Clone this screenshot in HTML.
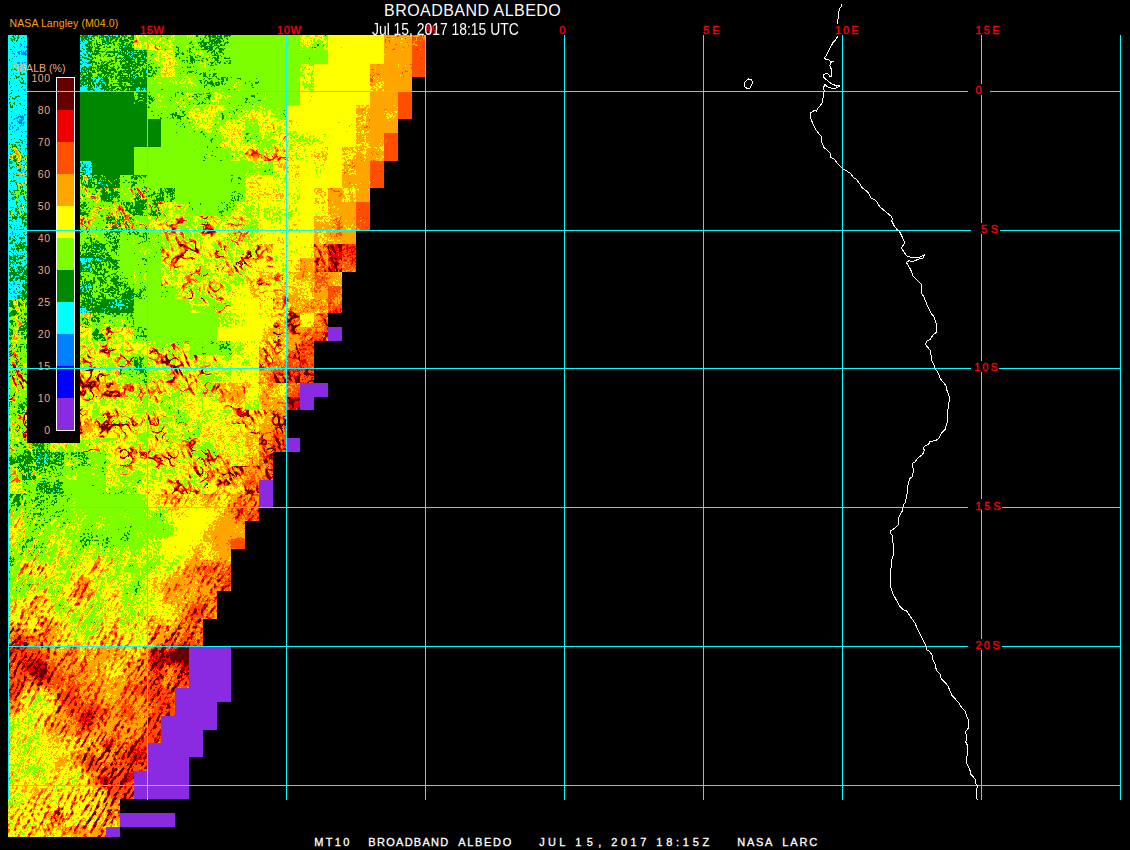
<!DOCTYPE html>
<html><head><meta charset="utf-8"><title>BROADBAND ALBEDO</title>
<style>
html,body{margin:0;padding:0;background:#000;}
body{width:1130px;height:850px;overflow:hidden;position:relative;font-family:"Liberation Sans",sans-serif;}
svg{position:absolute;left:0;top:0;}
.t{position:absolute;white-space:pre;line-height:1;}
.leg{color:#f4a57c;font-size:10.5px;letter-spacing:0.5px;}
</style></head><body>
<svg width="1130" height="850" viewBox="0 0 1130 850">
<defs>
<filter id="albA" x="0" y="0" width="440" height="850" filterUnits="userSpaceOnUse" primitiveUnits="userSpaceOnUse" color-interpolation-filters="sRGB">
  <feColorMatrix in="SourceGraphic" type="matrix" values="1 0 0 0 0  1 0 0 0 0  1 0 0 0 0  0 0 0 0 1" result="base"/>
  <feColorMatrix in="SourceGraphic" type="matrix" values="0 1 0 0 0  0 1 0 0 0  0 1 0 0 0  0 0 0 0 1" result="ampS"/>
  <feColorMatrix in="SourceGraphic" type="matrix" values="0 0 1 0 0  0 0 1 0 0  0 0 1 0 0  0 0 0 0 1" result="ampV"/>
  <feTurbulence type="fractalNoise" baseFrequency="0.045" numOctaves="2" seed="7" result="tL"/>
  <feColorMatrix in="tL" type="matrix" values="1 0 0 0 0  1 0 0 0 0  1 0 0 0 0  0 0 0 0 1" result="nL"/>
  <feTurbulence type="fractalNoise" baseFrequency="0.16" numOctaves="1" seed="3" result="tM"/>
  <feColorMatrix in="tM" type="matrix" values="1 0 0 0 0  1 0 0 0 0  1 0 0 0 0  0 0 0 0 1" result="nM"/>
  <feTurbulence type="fractalNoise" baseFrequency="0.45" numOctaves="2" seed="5" result="tH"/>
  <feColorMatrix in="tH" type="matrix" values="1 0 0 0 0  1 0 0 0 0  1 0 0 0 0  0 0 0 0 1" result="nH"/>
  <feComposite in="nL" in2="nM" operator="arithmetic" k1="0.0000" k2="0.8500" k3="0.5500" k4="0.0000" result="nLM"/>
  <feComposite in="nLM" in2="nH" operator="arithmetic" k1="0.0000" k2="1.0000" k3="0.8500" k4="-0.6250" result="nS"/>
  <feTurbulence type="turbulence" baseFrequency="0.12 0.12" numOctaves="1" seed="11" result="tV"/>
  <feColorMatrix in="tV" type="matrix" values="-8.000 0 0 0 1.200  -8.000 0 0 0 1.200  -8.000 0 0 0 1.200  0 0 0 0 1" result="VE0"/>
  <feTurbulence type="fractalNoise" baseFrequency="0.06" numOctaves="2" seed="31" result="tMk"/>
  <feColorMatrix in="tMk" type="matrix" values="6.000 0 0 0 -2.700  6.000 0 0 0 -2.700  6.000 0 0 0 -2.700  0 0 0 0 1" result="Mk"/>
  <feComposite in="VE0" in2="Mk" operator="arithmetic" k1="1.0000" k2="0.0000" k3="0.0000" k4="0.0000" result="PVr"/>
  <feTurbulence type="fractalNoise" baseFrequency="0.30" numOctaves="2" seed="41" result="tS"/>
  <feColorMatrix in="tS" type="matrix" values="1 0 0 0 0  1 0 0 0 0  1 0 0 0 0  0 0 0 0 1" result="nSt"/>
  <feOffset in="nSt" dx="0.6" dy="1.1" result="bo0"/>
  <feComposite in="nSt" in2="bo0" operator="arithmetic" k1="0.0000" k2="0.5000" k3="0.5000" k4="0.0000" result="bs0"/>
  <feOffset in="bs0" dx="1.1" dy="2.2" result="bo1"/>
  <feComposite in="bs0" in2="bo1" operator="arithmetic" k1="0.0000" k2="0.5000" k3="0.5000" k4="0.0000" result="bs1"/>
  <feOffset in="bs1" dx="2.2" dy="4.4" result="bo2"/>
  <feComposite in="bs1" in2="bo2" operator="arithmetic" k1="0.0000" k2="0.5000" k3="0.5000" k4="0.0000" result="nSts"/>
  <feColorMatrix in="nSts" type="matrix" values="10.000 0 0 0 -5.050  10.000 0 0 0 -5.050  10.000 0 0 0 -5.050  0 0 0 0 1" result="STK"/>
  <feTurbulence type="fractalNoise" baseFrequency="0.035" numOctaves="2" seed="51" result="tM2"/>
  <feColorMatrix in="tM2" type="matrix" values="6.000 0 0 0 -3.000  6.000 0 0 0 -3.000  6.000 0 0 0 -3.000  0 0 0 0 1" result="Mk2"/>
  <feComposite in="STK" in2="Mk2" operator="arithmetic" k1="1.0000" k2="0.0000" k3="0.0000" k4="0.0000" result="STKm"/>
  <feComposite in="PVr" in2="STKm" operator="arithmetic" k1="0.0000" k2="1.0000" k3="1.0000" k4="0.0000" result="PV"/>
  <feComposite in="ampS" in2="nS" operator="arithmetic" k1="1.0000" k2="0.0000" k3="0.0000" k4="0.0000" result="T1"/>
  <feComposite in="base" in2="ampS" operator="arithmetic" k1="0.0000" k2="1.0000" k3="-0.2727" k4="0.0000" result="B2"/>
  <feComposite in="B2" in2="T1" operator="arithmetic" k1="0.0000" k2="1.0000" k3="0.5455" k4="0.0000" result="B3"/>
  <feComposite in="ampV" in2="PV" operator="arithmetic" k1="1.0000" k2="0.0000" k3="0.0000" k4="0.0000" result="T2"/>
  <feComposite in="B3" in2="T2" operator="arithmetic" k1="0.0000" k2="1.0000" k3="0.6364" k4="0.0000" result="V"/>
  <feComponentTransfer in="V" result="COL"><feFuncR type="discrete" tableValues="0.5412 0.0000 0.0000 0.0000 0.0000 0.4980 1.0000 1.0000 1.0000 0.9333 0.3922"/><feFuncG type="discrete" tableValues="0.1686 0.0000 0.5020 1.0000 0.5333 1.0000 1.0000 0.6471 0.3098 0.0000 0.0000"/><feFuncB type="discrete" tableValues="0.8863 1.0000 1.0000 1.0000 0.0000 0.0000 0.0000 0.0000 0.0000 0.0000 0.0000"/></feComponentTransfer>
  <feComposite in="COL" in2="SourceGraphic" operator="in"/>
  </filter>
<filter id="albB" x="0" y="0" width="440" height="850" filterUnits="userSpaceOnUse" primitiveUnits="userSpaceOnUse" color-interpolation-filters="sRGB">
  <feGaussianBlur in="SourceGraphic" stdDeviation="4" result="blur"/>
  <feColorMatrix in="blur" type="matrix" values="1 0 0 0 0  1 0 0 0 0  1 0 0 0 0  0 0 0 0 1" result="base"/>
  <feColorMatrix in="blur" type="matrix" values="0 1 0 0 0  0 1 0 0 0  0 1 0 0 0  0 0 0 0 1" result="ampS"/>
  <feColorMatrix in="blur" type="matrix" values="0 0 1 0 0  0 0 1 0 0  0 0 1 0 0  0 0 0 0 1" result="ampV"/>
  <feTurbulence type="fractalNoise" baseFrequency="0.045" numOctaves="2" seed="7" result="tL"/>
  <feColorMatrix in="tL" type="matrix" values="1 0 0 0 0  1 0 0 0 0  1 0 0 0 0  0 0 0 0 1" result="nL"/>
  <feTurbulence type="fractalNoise" baseFrequency="0.16" numOctaves="1" seed="3" result="tM"/>
  <feColorMatrix in="tM" type="matrix" values="1 0 0 0 0  1 0 0 0 0  1 0 0 0 0  0 0 0 0 1" result="nM"/>
  <feTurbulence type="fractalNoise" baseFrequency="0.45" numOctaves="2" seed="5" result="tH"/>
  <feColorMatrix in="tH" type="matrix" values="1 0 0 0 0  1 0 0 0 0  1 0 0 0 0  0 0 0 0 1" result="nH"/>
  <feComposite in="nL" in2="nM" operator="arithmetic" k1="0.0000" k2="0.5000" k3="0.5000" k4="0.0000" result="nLM0"/>
  <feOffset in="nLM0" dx="0.7" dy="-1.2" result="ao0"/>
  <feComposite in="nLM0" in2="ao0" operator="arithmetic" k1="0.0000" k2="0.5000" k3="0.5000" k4="0.0000" result="as0"/>
  <feOffset in="as0" dx="1.4" dy="-2.4" result="ao1"/>
  <feComposite in="as0" in2="ao1" operator="arithmetic" k1="0.0000" k2="0.5000" k3="0.5000" k4="0.0000" result="as1"/>
  <feOffset in="as1" dx="2.8" dy="-4.8" result="ao2"/>
  <feComposite in="as1" in2="ao2" operator="arithmetic" k1="0.0000" k2="0.5000" k3="0.5000" k4="0.0000" result="nLMs"/>
  <feComposite in="nLMs" in2="nH" operator="arithmetic" k1="0.0000" k2="1.5400" k3="0.8500" k4="-0.6950" result="nS"/>
  <feTurbulence type="fractalNoise" baseFrequency="0.3" numOctaves="2" seed="41" result="tS"/>
  <feColorMatrix in="tS" type="matrix" values="1 0 0 0 0  1 0 0 0 0  1 0 0 0 0  0 0 0 0 1" result="nSt"/>
  <feOffset in="nSt" dx="0.7" dy="-1.2" result="bo0"/>
  <feComposite in="nSt" in2="bo0" operator="arithmetic" k1="0.0000" k2="0.5000" k3="0.5000" k4="0.0000" result="bs0"/>
  <feOffset in="bs0" dx="1.4" dy="-2.4" result="bo1"/>
  <feComposite in="bs0" in2="bo1" operator="arithmetic" k1="0.0000" k2="0.5000" k3="0.5000" k4="0.0000" result="bs1"/>
  <feOffset in="bs1" dx="2.8" dy="-4.8" result="bo2"/>
  <feComposite in="bs1" in2="bo2" operator="arithmetic" k1="0.0000" k2="0.5000" k3="0.5000" k4="0.0000" result="nSts"/>
  <feColorMatrix in="nSts" type="matrix" values="10.000 0 0 0 -5.050  10.000 0 0 0 -5.050  10.000 0 0 0 -5.050  0 0 0 0 1" result="STK"/>
  <feTurbulence type="fractalNoise" baseFrequency="0.04" numOctaves="3" seed="21" result="tP"/>
  <feColorMatrix in="tP" type="matrix" values="1 0 0 0 0  1 0 0 0 0  1 0 0 0 0  0 0 0 0 1" result="nP0"/>
  <feOffset in="nP0" dx="0.4" dy="-0.7" result="co0"/>
  <feComposite in="nP0" in2="co0" operator="arithmetic" k1="0.0000" k2="0.5000" k3="0.5000" k4="0.0000" result="cs0"/>
  <feOffset in="cs0" dx="0.8" dy="-1.4" result="co1"/>
  <feComposite in="cs0" in2="co1" operator="arithmetic" k1="0.0000" k2="0.5000" k3="0.5000" k4="0.0000" result="cs1"/>
  <feOffset in="cs1" dx="1.7" dy="-2.9" result="co2"/>
  <feComposite in="cs1" in2="co2" operator="arithmetic" k1="0.0000" k2="0.5000" k3="0.5000" k4="0.0000" result="nPs"/>
  <feColorMatrix in="nPs" type="matrix" values="4.000 0 0 0 -2.080  4.000 0 0 0 -2.080  4.000 0 0 0 -2.080  0 0 0 0 1" result="Pb"/>
  <feComposite in="ampV" in2="Pb" operator="arithmetic" k1="1.0000" k2="0.0000" k3="0.0000" k4="0.0000" result="Q"/>
  <feComposite in="STK" in2="Q" operator="arithmetic" k1="0.0000" k2="1.0000" k3="0.9000" k4="0.0000" result="PV"/>
  <feComposite in="ampS" in2="nS" operator="arithmetic" k1="1.0000" k2="0.0000" k3="0.0000" k4="0.0000" result="T1"/>
  <feComposite in="base" in2="ampS" operator="arithmetic" k1="0.0000" k2="1.0000" k3="-0.2727" k4="0.0000" result="B2"/>
  <feComposite in="B2" in2="T1" operator="arithmetic" k1="0.0000" k2="1.0000" k3="0.5455" k4="0.0000" result="B3"/>
  <feComposite in="ampV" in2="PV" operator="arithmetic" k1="1.0000" k2="0.0000" k3="0.0000" k4="0.0000" result="T2"/>
  <feComposite in="B3" in2="T2" operator="arithmetic" k1="0.0000" k2="1.0000" k3="0.6364" k4="0.0000" result="V"/>
  <feComponentTransfer in="V" result="COL"><feFuncR type="discrete" tableValues="0.5412 0.0000 0.0000 0.0000 0.0000 0.4980 1.0000 1.0000 1.0000 0.9333 0.3922"/><feFuncG type="discrete" tableValues="0.1686 0.0000 0.5020 1.0000 0.5333 1.0000 1.0000 0.6471 0.3098 0.0000 0.0000"/><feFuncB type="discrete" tableValues="0.8863 1.0000 1.0000 1.0000 0.0000 0.0000 0.0000 0.0000 0.0000 0.0000 0.0000"/></feComponentTransfer>
  <feComposite in="COL" in2="SourceGraphic" operator="in"/>
  </filter>
</defs>
<rect width="1130" height="850" fill="#000"/>
<g filter="url(#albA)" shape-rendering="crispEdges">
<rect x="8" y="35" width="28" height="15" fill="#515e00"/>
<rect x="78" y="35" width="14" height="15" fill="#5d9000"/>
<rect x="92" y="35" width="42" height="15" fill="#6e9000"/>
<rect x="134" y="35" width="27" height="15" fill="#8b5e6d"/>
<rect x="161" y="35" width="14" height="15" fill="#809000"/>
<rect x="175" y="35" width="14" height="15" fill="#805e00"/>
<rect x="189" y="35" width="28" height="15" fill="#7a9000"/>
<rect x="217" y="35" width="14" height="15" fill="#749000"/>
<rect x="231" y="35" width="69" height="15" fill="#800000"/>
<rect x="300" y="35" width="28" height="15" fill="#8b9000"/>
<rect x="328" y="35" width="28" height="15" fill="#972f00"/>
<rect x="356" y="35" width="28" height="15" fill="#970000"/>
<rect x="384" y="35" width="28" height="15" fill="#ae5e00"/>
<rect x="412" y="35" width="13" height="15" fill="#c55e00"/>
<rect x="8" y="50" width="28" height="14" fill="#515e00"/>
<rect x="78" y="50" width="14" height="14" fill="#5d9000"/>
<rect x="92" y="50" width="55" height="14" fill="#6e9000"/>
<rect x="147" y="50" width="14" height="14" fill="#809000"/>
<rect x="161" y="50" width="14" height="14" fill="#8b9000"/>
<rect x="175" y="50" width="14" height="14" fill="#805e00"/>
<rect x="189" y="50" width="28" height="14" fill="#7a9000"/>
<rect x="217" y="50" width="14" height="14" fill="#745e00"/>
<rect x="231" y="50" width="69" height="14" fill="#800000"/>
<rect x="300" y="50" width="28" height="14" fill="#802f00"/>
<rect x="328" y="50" width="56" height="14" fill="#970000"/>
<rect x="384" y="50" width="28" height="14" fill="#ae2f00"/>
<rect x="412" y="50" width="13" height="14" fill="#c52f00"/>
<rect x="8" y="64" width="28" height="13" fill="#515e00"/>
<rect x="78" y="64" width="14" height="13" fill="#5d9000"/>
<rect x="92" y="64" width="55" height="13" fill="#6e9000"/>
<rect x="147" y="64" width="14" height="13" fill="#7a9000"/>
<rect x="161" y="64" width="14" height="13" fill="#8b9000"/>
<rect x="175" y="64" width="28" height="13" fill="#805e00"/>
<rect x="203" y="64" width="14" height="13" fill="#7a9000"/>
<rect x="217" y="64" width="14" height="13" fill="#802f00"/>
<rect x="231" y="64" width="69" height="13" fill="#800000"/>
<rect x="300" y="64" width="14" height="13" fill="#8b9000"/>
<rect x="314" y="64" width="14" height="13" fill="#972f00"/>
<rect x="328" y="64" width="42" height="13" fill="#970000"/>
<rect x="370" y="64" width="14" height="13" fill="#ae5e00"/>
<rect x="384" y="64" width="14" height="13" fill="#ae2f00"/>
<rect x="398" y="64" width="14" height="13" fill="#ae5e00"/>
<rect x="412" y="64" width="13" height="13" fill="#c52f00"/>
<rect x="8" y="77" width="28" height="14" fill="#515e00"/>
<rect x="78" y="77" width="28" height="14" fill="#5d9000"/>
<rect x="106" y="77" width="14" height="14" fill="#6e9000"/>
<rect x="120" y="77" width="27" height="14" fill="#685e00"/>
<rect x="147" y="77" width="112" height="14" fill="#805e00"/>
<rect x="259" y="77" width="41" height="14" fill="#800000"/>
<rect x="300" y="77" width="14" height="14" fill="#8b9000"/>
<rect x="314" y="77" width="56" height="14" fill="#970000"/>
<rect x="370" y="77" width="14" height="14" fill="#a29000"/>
<rect x="384" y="77" width="28" height="14" fill="#ae2f00"/>
<rect x="8" y="91" width="28" height="14" fill="#515e00"/>
<rect x="78" y="91" width="42" height="14" fill="#680000"/>
<rect x="120" y="91" width="14" height="14" fill="#682f00"/>
<rect x="134" y="91" width="13" height="14" fill="#745e00"/>
<rect x="147" y="91" width="28" height="14" fill="#805e00"/>
<rect x="175" y="91" width="42" height="14" fill="#809000"/>
<rect x="217" y="91" width="14" height="14" fill="#805e00"/>
<rect x="231" y="91" width="14" height="14" fill="#802f00"/>
<rect x="245" y="91" width="28" height="14" fill="#805e00"/>
<rect x="273" y="91" width="13" height="14" fill="#802f00"/>
<rect x="286" y="91" width="14" height="14" fill="#800000"/>
<rect x="300" y="91" width="14" height="14" fill="#972f00"/>
<rect x="314" y="91" width="56" height="14" fill="#970000"/>
<rect x="370" y="91" width="28" height="14" fill="#ae2f00"/>
<rect x="398" y="91" width="14" height="14" fill="#c52f00"/>
<rect x="8" y="105" width="28" height="14" fill="#515e00"/>
<rect x="78" y="105" width="56" height="14" fill="#680000"/>
<rect x="134" y="105" width="13" height="14" fill="#682f00"/>
<rect x="147" y="105" width="28" height="14" fill="#805e00"/>
<rect x="175" y="105" width="14" height="14" fill="#809000"/>
<rect x="189" y="105" width="70" height="14" fill="#8b9000"/>
<rect x="259" y="105" width="14" height="14" fill="#8b5e00"/>
<rect x="273" y="105" width="13" height="14" fill="#805e00"/>
<rect x="286" y="105" width="42" height="14" fill="#972f00"/>
<rect x="328" y="105" width="28" height="14" fill="#970000"/>
<rect x="356" y="105" width="14" height="14" fill="#a29000"/>
<rect x="370" y="105" width="14" height="14" fill="#ae2f00"/>
<rect x="384" y="105" width="14" height="14" fill="#ae5e00"/>
<rect x="398" y="105" width="14" height="14" fill="#c52f00"/>
<rect x="8" y="119" width="28" height="14" fill="#515e00"/>
<rect x="78" y="119" width="69" height="14" fill="#680000"/>
<rect x="147" y="119" width="14" height="14" fill="#682f00"/>
<rect x="161" y="119" width="14" height="14" fill="#802f00"/>
<rect x="175" y="119" width="14" height="14" fill="#805e00"/>
<rect x="189" y="119" width="14" height="14" fill="#809000"/>
<rect x="203" y="119" width="42" height="14" fill="#8b9000"/>
<rect x="245" y="119" width="14" height="14" fill="#805e00"/>
<rect x="259" y="119" width="14" height="14" fill="#8b9000"/>
<rect x="273" y="119" width="13" height="14" fill="#8b5e6d"/>
<rect x="286" y="119" width="14" height="14" fill="#975e00"/>
<rect x="300" y="119" width="56" height="14" fill="#972f00"/>
<rect x="356" y="119" width="14" height="14" fill="#a29000"/>
<rect x="370" y="119" width="28" height="14" fill="#ae2f00"/>
<rect x="8" y="133" width="28" height="14" fill="#515e99"/>
<rect x="78" y="133" width="69" height="14" fill="#680000"/>
<rect x="147" y="133" width="14" height="14" fill="#682f00"/>
<rect x="161" y="133" width="42" height="14" fill="#802f00"/>
<rect x="203" y="133" width="14" height="14" fill="#805e00"/>
<rect x="217" y="133" width="42" height="14" fill="#8b9000"/>
<rect x="259" y="133" width="27" height="14" fill="#8b5e6d"/>
<rect x="286" y="133" width="14" height="14" fill="#979000"/>
<rect x="300" y="133" width="28" height="14" fill="#975e00"/>
<rect x="328" y="133" width="28" height="14" fill="#972f00"/>
<rect x="356" y="133" width="14" height="14" fill="#ae5e00"/>
<rect x="370" y="133" width="14" height="14" fill="#ae2f00"/>
<rect x="384" y="133" width="14" height="14" fill="#c52f00"/>
<rect x="8" y="147" width="28" height="14" fill="#515e99"/>
<rect x="78" y="147" width="14" height="14" fill="#682f00"/>
<rect x="92" y="147" width="42" height="14" fill="#680000"/>
<rect x="134" y="147" width="27" height="14" fill="#802f00"/>
<rect x="161" y="147" width="28" height="14" fill="#800000"/>
<rect x="189" y="147" width="14" height="14" fill="#802f00"/>
<rect x="203" y="147" width="28" height="14" fill="#805e00"/>
<rect x="231" y="147" width="14" height="14" fill="#8b9000"/>
<rect x="245" y="147" width="41" height="14" fill="#8b5e6d"/>
<rect x="286" y="147" width="14" height="14" fill="#979000"/>
<rect x="300" y="147" width="14" height="14" fill="#975e00"/>
<rect x="314" y="147" width="14" height="14" fill="#a25e00"/>
<rect x="328" y="147" width="14" height="14" fill="#972f00"/>
<rect x="342" y="147" width="14" height="14" fill="#a29000"/>
<rect x="356" y="147" width="28" height="14" fill="#ae5e00"/>
<rect x="384" y="147" width="14" height="14" fill="#c52f00"/>
<rect x="8" y="161" width="28" height="14" fill="#515e99"/>
<rect x="78" y="161" width="14" height="14" fill="#5d9000"/>
<rect x="92" y="161" width="14" height="14" fill="#682f00"/>
<rect x="106" y="161" width="28" height="14" fill="#680000"/>
<rect x="134" y="161" width="27" height="14" fill="#802f00"/>
<rect x="161" y="161" width="56" height="14" fill="#800000"/>
<rect x="217" y="161" width="28" height="14" fill="#802f00"/>
<rect x="245" y="161" width="28" height="14" fill="#805e00"/>
<rect x="273" y="161" width="27" height="14" fill="#975e00"/>
<rect x="300" y="161" width="14" height="14" fill="#972f00"/>
<rect x="314" y="161" width="14" height="14" fill="#975e00"/>
<rect x="328" y="161" width="14" height="14" fill="#972f00"/>
<rect x="342" y="161" width="14" height="14" fill="#a29000"/>
<rect x="356" y="161" width="14" height="14" fill="#ae2f00"/>
<rect x="370" y="161" width="14" height="14" fill="#c52f00"/>
<rect x="8" y="175" width="28" height="13" fill="#515e99"/>
<rect x="78" y="175" width="14" height="13" fill="#5d5e6d"/>
<rect x="92" y="175" width="14" height="13" fill="#749000"/>
<rect x="106" y="175" width="14" height="13" fill="#685e00"/>
<rect x="120" y="175" width="27" height="13" fill="#745e00"/>
<rect x="147" y="175" width="14" height="13" fill="#802f00"/>
<rect x="161" y="175" width="56" height="13" fill="#800000"/>
<rect x="217" y="175" width="14" height="13" fill="#802f00"/>
<rect x="231" y="175" width="14" height="13" fill="#805e00"/>
<rect x="245" y="175" width="14" height="13" fill="#8b9000"/>
<rect x="259" y="175" width="14" height="13" fill="#975e00"/>
<rect x="273" y="175" width="13" height="13" fill="#979000"/>
<rect x="286" y="175" width="14" height="13" fill="#975e00"/>
<rect x="300" y="175" width="42" height="13" fill="#972f00"/>
<rect x="342" y="175" width="14" height="13" fill="#ae5e00"/>
<rect x="356" y="175" width="14" height="13" fill="#ae2f00"/>
<rect x="370" y="175" width="14" height="13" fill="#c52f00"/>
<rect x="8" y="188" width="28" height="14" fill="#515e99"/>
<rect x="78" y="188" width="14" height="14" fill="#7a5e99"/>
<rect x="92" y="188" width="28" height="14" fill="#6e5e99"/>
<rect x="120" y="188" width="14" height="14" fill="#7a5e99"/>
<rect x="134" y="188" width="13" height="14" fill="#6e5e99"/>
<rect x="147" y="188" width="28" height="14" fill="#749000"/>
<rect x="175" y="188" width="14" height="14" fill="#802f00"/>
<rect x="189" y="188" width="28" height="14" fill="#800000"/>
<rect x="217" y="188" width="14" height="14" fill="#802f00"/>
<rect x="231" y="188" width="14" height="14" fill="#805e00"/>
<rect x="245" y="188" width="14" height="14" fill="#8b9000"/>
<rect x="259" y="188" width="14" height="14" fill="#975e00"/>
<rect x="273" y="188" width="13" height="14" fill="#979000"/>
<rect x="286" y="188" width="14" height="14" fill="#975e00"/>
<rect x="300" y="188" width="14" height="14" fill="#972f00"/>
<rect x="314" y="188" width="14" height="14" fill="#975e00"/>
<rect x="328" y="188" width="14" height="14" fill="#ae5e00"/>
<rect x="342" y="188" width="14" height="14" fill="#a29000"/>
<rect x="356" y="188" width="14" height="14" fill="#ae2f00"/>
<rect x="8" y="202" width="28" height="14" fill="#515e99"/>
<rect x="78" y="202" width="42" height="14" fill="#7a5e99"/>
<rect x="120" y="202" width="27" height="14" fill="#6e5e99"/>
<rect x="147" y="202" width="14" height="14" fill="#745e99"/>
<rect x="161" y="202" width="28" height="14" fill="#8b5e99"/>
<rect x="189" y="202" width="14" height="14" fill="#805e00"/>
<rect x="203" y="202" width="14" height="14" fill="#802f00"/>
<rect x="217" y="202" width="14" height="14" fill="#805e00"/>
<rect x="231" y="202" width="14" height="14" fill="#8b9000"/>
<rect x="245" y="202" width="14" height="14" fill="#8b5e00"/>
<rect x="259" y="202" width="41" height="14" fill="#975e00"/>
<rect x="300" y="202" width="14" height="14" fill="#972f00"/>
<rect x="314" y="202" width="14" height="14" fill="#975e00"/>
<rect x="328" y="202" width="14" height="14" fill="#ae5e00"/>
<rect x="342" y="202" width="14" height="14" fill="#ae2f00"/>
<rect x="356" y="202" width="14" height="14" fill="#c52f00"/>
<rect x="8" y="216" width="28" height="14" fill="#5d9000"/>
<rect x="78" y="216" width="28" height="14" fill="#7a5e99"/>
<rect x="106" y="216" width="28" height="14" fill="#6e5e99"/>
<rect x="134" y="216" width="13" height="14" fill="#7a5e99"/>
<rect x="147" y="216" width="70" height="14" fill="#8b5e99"/>
<rect x="217" y="216" width="28" height="14" fill="#8b5e6d"/>
<rect x="245" y="216" width="14" height="14" fill="#8b5e00"/>
<rect x="259" y="216" width="41" height="14" fill="#975e00"/>
<rect x="300" y="216" width="14" height="14" fill="#972f00"/>
<rect x="314" y="216" width="14" height="14" fill="#ae5e00"/>
<rect x="328" y="216" width="14" height="14" fill="#ae9000"/>
<rect x="342" y="216" width="14" height="14" fill="#ae5e00"/>
<rect x="356" y="216" width="14" height="14" fill="#c55e00"/>
<rect x="8" y="230" width="28" height="14" fill="#5d9000"/>
<rect x="78" y="230" width="14" height="14" fill="#749000"/>
<rect x="92" y="230" width="14" height="14" fill="#805e00"/>
<rect x="106" y="230" width="14" height="14" fill="#745e00"/>
<rect x="120" y="230" width="14" height="14" fill="#805e00"/>
<rect x="134" y="230" width="13" height="14" fill="#809000"/>
<rect x="147" y="230" width="14" height="14" fill="#805e00"/>
<rect x="161" y="230" width="28" height="14" fill="#8b5e6d"/>
<rect x="189" y="230" width="42" height="14" fill="#8b5e99"/>
<rect x="231" y="230" width="28" height="14" fill="#8b5e6d"/>
<rect x="259" y="230" width="41" height="14" fill="#975e00"/>
<rect x="300" y="230" width="14" height="14" fill="#972f00"/>
<rect x="314" y="230" width="14" height="14" fill="#ae5e00"/>
<rect x="328" y="230" width="14" height="14" fill="#ae9000"/>
<rect x="342" y="230" width="14" height="14" fill="#ae2f00"/>
<rect x="8" y="244" width="28" height="14" fill="#5d9000"/>
<rect x="78" y="244" width="28" height="14" fill="#749000"/>
<rect x="106" y="244" width="14" height="14" fill="#745e00"/>
<rect x="120" y="244" width="14" height="14" fill="#802f00"/>
<rect x="134" y="244" width="27" height="14" fill="#805e00"/>
<rect x="161" y="244" width="14" height="14" fill="#8b5e6d"/>
<rect x="175" y="244" width="84" height="14" fill="#8b5e99"/>
<rect x="259" y="244" width="14" height="14" fill="#975e6d"/>
<rect x="273" y="244" width="41" height="14" fill="#975e00"/>
<rect x="314" y="244" width="14" height="14" fill="#b95e6d"/>
<rect x="328" y="244" width="14" height="14" fill="#d15e6d"/>
<rect x="342" y="244" width="14" height="14" fill="#c59000"/>
<rect x="8" y="258" width="28" height="14" fill="#5d9000"/>
<rect x="78" y="258" width="14" height="14" fill="#5d9000"/>
<rect x="92" y="258" width="14" height="14" fill="#749000"/>
<rect x="106" y="258" width="14" height="14" fill="#745e00"/>
<rect x="120" y="258" width="14" height="14" fill="#802f00"/>
<rect x="134" y="258" width="13" height="14" fill="#805e00"/>
<rect x="147" y="258" width="14" height="14" fill="#802f00"/>
<rect x="161" y="258" width="14" height="14" fill="#8b5e6d"/>
<rect x="175" y="258" width="70" height="14" fill="#8b5e99"/>
<rect x="245" y="258" width="14" height="14" fill="#a25e99"/>
<rect x="259" y="258" width="14" height="14" fill="#975e6d"/>
<rect x="273" y="258" width="27" height="14" fill="#975e00"/>
<rect x="300" y="258" width="14" height="14" fill="#ae5e00"/>
<rect x="314" y="258" width="14" height="14" fill="#b95e6d"/>
<rect x="328" y="258" width="14" height="14" fill="#d15e6d"/>
<rect x="342" y="258" width="14" height="14" fill="#c59000"/>
<rect x="8" y="272" width="28" height="14" fill="#5d9000"/>
<rect x="78" y="272" width="28" height="14" fill="#749000"/>
<rect x="106" y="272" width="28" height="14" fill="#745e00"/>
<rect x="134" y="272" width="13" height="14" fill="#805e00"/>
<rect x="147" y="272" width="14" height="14" fill="#802f00"/>
<rect x="161" y="272" width="42" height="14" fill="#8b5e6d"/>
<rect x="203" y="272" width="14" height="14" fill="#8b5e99"/>
<rect x="217" y="272" width="28" height="14" fill="#8b5e6d"/>
<rect x="245" y="272" width="14" height="14" fill="#975e6d"/>
<rect x="259" y="272" width="14" height="14" fill="#a25e99"/>
<rect x="273" y="272" width="13" height="14" fill="#975e6d"/>
<rect x="286" y="272" width="28" height="14" fill="#a29000"/>
<rect x="314" y="272" width="14" height="14" fill="#ae9000"/>
<rect x="328" y="272" width="14" height="14" fill="#ae5e00"/>
<rect x="8" y="286" width="28" height="13" fill="#5d9000"/>
<rect x="78" y="286" width="14" height="13" fill="#5d9000"/>
<rect x="92" y="286" width="28" height="13" fill="#749000"/>
<rect x="120" y="286" width="14" height="13" fill="#745e00"/>
<rect x="134" y="286" width="13" height="13" fill="#805e00"/>
<rect x="147" y="286" width="14" height="13" fill="#802f00"/>
<rect x="161" y="286" width="14" height="13" fill="#805e00"/>
<rect x="175" y="286" width="14" height="13" fill="#8b5e6d"/>
<rect x="189" y="286" width="14" height="13" fill="#8b5e99"/>
<rect x="203" y="286" width="28" height="13" fill="#8b5e6d"/>
<rect x="231" y="286" width="28" height="13" fill="#975e00"/>
<rect x="259" y="286" width="14" height="13" fill="#975e6d"/>
<rect x="273" y="286" width="13" height="13" fill="#a25e99"/>
<rect x="286" y="286" width="14" height="13" fill="#a25e6d"/>
<rect x="300" y="286" width="14" height="13" fill="#a29000"/>
<rect x="314" y="286" width="14" height="13" fill="#ae5e00"/>
<rect x="328" y="286" width="14" height="13" fill="#c55e00"/>
<rect x="8" y="299" width="28" height="14" fill="#745e99"/>
<rect x="78" y="299" width="14" height="14" fill="#5d9000"/>
<rect x="92" y="299" width="42" height="14" fill="#685e00"/>
<rect x="134" y="299" width="27" height="14" fill="#800000"/>
<rect x="161" y="299" width="28" height="14" fill="#802f00"/>
<rect x="189" y="299" width="14" height="14" fill="#8b5e00"/>
<rect x="203" y="299" width="28" height="14" fill="#8b5e6d"/>
<rect x="231" y="299" width="14" height="14" fill="#975e00"/>
<rect x="245" y="299" width="14" height="14" fill="#972f00"/>
<rect x="259" y="299" width="14" height="14" fill="#975e00"/>
<rect x="273" y="299" width="13" height="14" fill="#a25e99"/>
<rect x="286" y="299" width="14" height="14" fill="#a25e6d"/>
<rect x="300" y="299" width="28" height="14" fill="#ae9000"/>
<rect x="328" y="299" width="14" height="14" fill="#c59000"/>
<rect x="8" y="313" width="28" height="14" fill="#745e99"/>
<rect x="78" y="313" width="14" height="14" fill="#745e6d"/>
<rect x="92" y="313" width="42" height="14" fill="#749000"/>
<rect x="134" y="313" width="27" height="14" fill="#800000"/>
<rect x="161" y="313" width="14" height="14" fill="#802f00"/>
<rect x="175" y="313" width="28" height="14" fill="#800000"/>
<rect x="203" y="313" width="14" height="14" fill="#802f00"/>
<rect x="217" y="313" width="14" height="14" fill="#805e00"/>
<rect x="231" y="313" width="14" height="14" fill="#8b5e00"/>
<rect x="245" y="313" width="14" height="14" fill="#972f00"/>
<rect x="259" y="313" width="14" height="14" fill="#a25e00"/>
<rect x="273" y="313" width="13" height="14" fill="#a25e99"/>
<rect x="286" y="313" width="14" height="14" fill="#b95e99"/>
<rect x="300" y="313" width="14" height="14" fill="#a25e6d"/>
<rect x="314" y="313" width="14" height="14" fill="#b95e6d"/>
<rect x="8" y="327" width="28" height="14" fill="#745e99"/>
<rect x="78" y="327" width="14" height="14" fill="#8b5e99"/>
<rect x="92" y="327" width="14" height="14" fill="#745e6d"/>
<rect x="106" y="327" width="14" height="14" fill="#8b5e99"/>
<rect x="120" y="327" width="14" height="14" fill="#8b5e6d"/>
<rect x="134" y="327" width="13" height="14" fill="#805e00"/>
<rect x="147" y="327" width="14" height="14" fill="#802f00"/>
<rect x="161" y="327" width="56" height="14" fill="#800000"/>
<rect x="217" y="327" width="42" height="14" fill="#972f00"/>
<rect x="259" y="327" width="14" height="14" fill="#a25e00"/>
<rect x="273" y="327" width="13" height="14" fill="#a25e99"/>
<rect x="286" y="327" width="42" height="14" fill="#b95e99"/>
<rect x="8" y="341" width="28" height="14" fill="#7a5ec5"/>
<rect x="78" y="341" width="14" height="14" fill="#8b5eaf"/>
<rect x="92" y="341" width="83" height="14" fill="#8b5e99"/>
<rect x="175" y="341" width="14" height="14" fill="#8b5e6d"/>
<rect x="189" y="341" width="42" height="14" fill="#805e00"/>
<rect x="231" y="341" width="14" height="14" fill="#8b9000"/>
<rect x="245" y="341" width="14" height="14" fill="#975e00"/>
<rect x="259" y="341" width="27" height="14" fill="#a25e6d"/>
<rect x="286" y="341" width="14" height="14" fill="#b95e99"/>
<rect x="300" y="341" width="14" height="14" fill="#c59000"/>
<rect x="8" y="355" width="28" height="14" fill="#7a5ec5"/>
<rect x="78" y="355" width="28" height="14" fill="#8b5e99"/>
<rect x="106" y="355" width="14" height="14" fill="#8b5e6d"/>
<rect x="120" y="355" width="14" height="14" fill="#8b5e99"/>
<rect x="134" y="355" width="13" height="14" fill="#809000"/>
<rect x="147" y="355" width="14" height="14" fill="#8b5e6d"/>
<rect x="161" y="355" width="14" height="14" fill="#8b5eaf"/>
<rect x="175" y="355" width="28" height="14" fill="#8b5e99"/>
<rect x="203" y="355" width="14" height="14" fill="#8b5e6d"/>
<rect x="217" y="355" width="14" height="14" fill="#8b5e00"/>
<rect x="231" y="355" width="28" height="14" fill="#975e00"/>
<rect x="259" y="355" width="14" height="14" fill="#a25e6d"/>
<rect x="273" y="355" width="13" height="14" fill="#ae9000"/>
<rect x="286" y="355" width="14" height="14" fill="#b95e99"/>
<rect x="300" y="355" width="14" height="14" fill="#c59000"/>
<rect x="8" y="369" width="28" height="14" fill="#7a5ec5"/>
<rect x="78" y="369" width="28" height="14" fill="#a25eaf"/>
<rect x="106" y="369" width="14" height="14" fill="#8b5e6d"/>
<rect x="120" y="369" width="27" height="14" fill="#809000"/>
<rect x="147" y="369" width="14" height="14" fill="#8b5e99"/>
<rect x="161" y="369" width="42" height="14" fill="#8b5eaf"/>
<rect x="203" y="369" width="14" height="14" fill="#8b5e99"/>
<rect x="217" y="369" width="14" height="14" fill="#8b9000"/>
<rect x="231" y="369" width="28" height="14" fill="#975e00"/>
<rect x="259" y="369" width="14" height="14" fill="#ae9000"/>
<rect x="273" y="369" width="13" height="14" fill="#b95e99"/>
<rect x="286" y="369" width="28" height="14" fill="#d15e99"/>
<rect x="8" y="383" width="28" height="14" fill="#7a5ec5"/>
<rect x="78" y="383" width="14" height="14" fill="#8b5eaf"/>
<rect x="92" y="383" width="14" height="14" fill="#a25eaf"/>
<rect x="106" y="383" width="14" height="14" fill="#a25e99"/>
<rect x="120" y="383" width="83" height="14" fill="#8b5e6d"/>
<rect x="203" y="383" width="14" height="14" fill="#8b5e99"/>
<rect x="217" y="383" width="14" height="14" fill="#a25e99"/>
<rect x="231" y="383" width="14" height="14" fill="#a25e6d"/>
<rect x="245" y="383" width="14" height="14" fill="#975e00"/>
<rect x="259" y="383" width="14" height="14" fill="#ae9000"/>
<rect x="273" y="383" width="13" height="14" fill="#a29000"/>
<rect x="286" y="383" width="14" height="14" fill="#c59000"/>
<rect x="8" y="397" width="28" height="13" fill="#7a5ec5"/>
<rect x="78" y="397" width="28" height="13" fill="#8b5e99"/>
<rect x="106" y="397" width="55" height="13" fill="#8b5e6d"/>
<rect x="161" y="397" width="14" height="13" fill="#809000"/>
<rect x="175" y="397" width="28" height="13" fill="#8b9000"/>
<rect x="203" y="397" width="14" height="13" fill="#975e00"/>
<rect x="217" y="397" width="14" height="13" fill="#a25e6d"/>
<rect x="231" y="397" width="14" height="13" fill="#a25e99"/>
<rect x="245" y="397" width="14" height="13" fill="#979000"/>
<rect x="259" y="397" width="27" height="13" fill="#ae9000"/>
<rect x="286" y="397" width="14" height="13" fill="#d15e6d"/>
<rect x="8" y="410" width="28" height="14" fill="#7a5ec5"/>
<rect x="78" y="410" width="14" height="14" fill="#a25eaf"/>
<rect x="92" y="410" width="42" height="14" fill="#8b5e99"/>
<rect x="134" y="410" width="13" height="14" fill="#8b5e6d"/>
<rect x="147" y="410" width="28" height="14" fill="#8b5e99"/>
<rect x="175" y="410" width="14" height="14" fill="#809000"/>
<rect x="189" y="410" width="28" height="14" fill="#8b9000"/>
<rect x="217" y="410" width="14" height="14" fill="#979000"/>
<rect x="231" y="410" width="14" height="14" fill="#a25e6d"/>
<rect x="245" y="410" width="14" height="14" fill="#a25e99"/>
<rect x="259" y="410" width="14" height="14" fill="#a25e6d"/>
<rect x="273" y="410" width="13" height="14" fill="#b95e99"/>
<rect x="8" y="424" width="28" height="14" fill="#7a5ec5"/>
<rect x="78" y="424" width="42" height="14" fill="#a25eaf"/>
<rect x="120" y="424" width="55" height="14" fill="#8b5e99"/>
<rect x="175" y="424" width="14" height="14" fill="#8b5e6d"/>
<rect x="189" y="424" width="14" height="14" fill="#8b9000"/>
<rect x="203" y="424" width="42" height="14" fill="#979000"/>
<rect x="245" y="424" width="14" height="14" fill="#a25e6d"/>
<rect x="259" y="424" width="14" height="14" fill="#ae5e6d"/>
<rect x="273" y="424" width="13" height="14" fill="#b95e99"/>
<rect x="8" y="438" width="28" height="14" fill="#745e6d"/>
<rect x="36" y="438" width="14" height="14" fill="#749000"/>
<rect x="50" y="438" width="28" height="14" fill="#8b5e6d"/>
<rect x="78" y="438" width="14" height="14" fill="#8b5e99"/>
<rect x="92" y="438" width="14" height="14" fill="#8b5e6d"/>
<rect x="106" y="438" width="28" height="14" fill="#8b5e99"/>
<rect x="134" y="438" width="13" height="14" fill="#8b5e6d"/>
<rect x="147" y="438" width="14" height="14" fill="#a25e99"/>
<rect x="161" y="438" width="28" height="14" fill="#8b5e6d"/>
<rect x="189" y="438" width="28" height="14" fill="#8b5e99"/>
<rect x="217" y="438" width="28" height="14" fill="#979000"/>
<rect x="245" y="438" width="14" height="14" fill="#a29000"/>
<rect x="259" y="438" width="14" height="14" fill="#ae5e6d"/>
<rect x="273" y="438" width="13" height="14" fill="#b95e99"/>
<rect x="8" y="452" width="28" height="14" fill="#745e6d"/>
<rect x="36" y="452" width="14" height="14" fill="#689000"/>
<rect x="50" y="452" width="14" height="14" fill="#749000"/>
<rect x="64" y="452" width="14" height="14" fill="#8b9000"/>
<rect x="78" y="452" width="14" height="14" fill="#809000"/>
<rect x="92" y="452" width="14" height="14" fill="#805e00"/>
<rect x="106" y="452" width="14" height="14" fill="#8b9000"/>
<rect x="120" y="452" width="41" height="14" fill="#8b5e99"/>
<rect x="161" y="452" width="14" height="14" fill="#a25e99"/>
<rect x="175" y="452" width="14" height="14" fill="#8b5e6d"/>
<rect x="189" y="452" width="28" height="14" fill="#8b5e99"/>
<rect x="217" y="452" width="14" height="14" fill="#a25e99"/>
<rect x="231" y="452" width="14" height="14" fill="#979000"/>
<rect x="245" y="452" width="14" height="14" fill="#a25e6d"/>
<rect x="259" y="452" width="14" height="14" fill="#b95e6d"/>
<rect x="8" y="466" width="14" height="14" fill="#745e6d"/>
<rect x="22" y="466" width="14" height="14" fill="#5d5e6d"/>
<rect x="36" y="466" width="28" height="14" fill="#749000"/>
<rect x="64" y="466" width="14" height="14" fill="#805e00"/>
<rect x="78" y="466" width="14" height="14" fill="#802f00"/>
<rect x="92" y="466" width="14" height="14" fill="#805e00"/>
<rect x="106" y="466" width="14" height="14" fill="#8b9000"/>
<rect x="120" y="466" width="14" height="14" fill="#8b5e6d"/>
<rect x="134" y="466" width="41" height="14" fill="#8b5e99"/>
<rect x="175" y="466" width="14" height="14" fill="#979000"/>
<rect x="189" y="466" width="14" height="14" fill="#8b5e99"/>
<rect x="203" y="466" width="14" height="14" fill="#8b5e6d"/>
<rect x="217" y="466" width="14" height="14" fill="#a25eaf"/>
<rect x="231" y="466" width="14" height="14" fill="#a25e99"/>
<rect x="245" y="466" width="28" height="14" fill="#ae5e6d"/>
<rect x="8" y="480" width="14" height="14" fill="#8b5e6d"/>
<rect x="22" y="480" width="14" height="14" fill="#745e6d"/>
<rect x="36" y="480" width="14" height="14" fill="#689000"/>
<rect x="50" y="480" width="14" height="14" fill="#749000"/>
<rect x="64" y="480" width="28" height="14" fill="#802f00"/>
<rect x="92" y="480" width="14" height="14" fill="#805e00"/>
<rect x="106" y="480" width="41" height="14" fill="#8b9000"/>
<rect x="147" y="480" width="14" height="14" fill="#8b5e6d"/>
<rect x="161" y="480" width="56" height="14" fill="#8b5e99"/>
<rect x="217" y="480" width="14" height="14" fill="#a25e99"/>
<rect x="231" y="480" width="14" height="14" fill="#a25e6d"/>
<rect x="245" y="480" width="14" height="14" fill="#b95e99"/>
</g>
<g filter="url(#albB)" shape-rendering="crispEdges">
<rect x="8" y="494" width="28" height="14" fill="#745e3e"/>
<rect x="36" y="494" width="14" height="14" fill="#749000"/>
<rect x="50" y="494" width="28" height="14" fill="#805e00"/>
<rect x="78" y="494" width="56" height="14" fill="#800000"/>
<rect x="134" y="494" width="13" height="14" fill="#802f00"/>
<rect x="147" y="494" width="14" height="14" fill="#979000"/>
<rect x="161" y="494" width="28" height="14" fill="#a25e5b"/>
<rect x="189" y="494" width="14" height="14" fill="#979000"/>
<rect x="203" y="494" width="28" height="14" fill="#a25e3e"/>
<rect x="231" y="494" width="28" height="14" fill="#b95e5b"/>
<rect x="8" y="508" width="28" height="13" fill="#7a5e5b"/>
<rect x="36" y="508" width="14" height="13" fill="#7a5e3e"/>
<rect x="50" y="508" width="14" height="13" fill="#809000"/>
<rect x="64" y="508" width="42" height="13" fill="#805e00"/>
<rect x="106" y="508" width="14" height="13" fill="#802f00"/>
<rect x="120" y="508" width="14" height="13" fill="#805e00"/>
<rect x="134" y="508" width="13" height="13" fill="#802f00"/>
<rect x="147" y="508" width="28" height="13" fill="#8b9000"/>
<rect x="175" y="508" width="14" height="13" fill="#979000"/>
<rect x="189" y="508" width="14" height="13" fill="#972f00"/>
<rect x="203" y="508" width="14" height="13" fill="#975e00"/>
<rect x="217" y="508" width="14" height="13" fill="#a29000"/>
<rect x="231" y="508" width="14" height="13" fill="#b95e5b"/>
<rect x="245" y="508" width="14" height="13" fill="#b95e3e"/>
<rect x="8" y="521" width="28" height="14" fill="#7a5e5b"/>
<rect x="36" y="521" width="14" height="14" fill="#7a5e3e"/>
<rect x="50" y="521" width="14" height="14" fill="#855e3e"/>
<rect x="64" y="521" width="14" height="14" fill="#859000"/>
<rect x="78" y="521" width="28" height="14" fill="#805e00"/>
<rect x="106" y="521" width="14" height="14" fill="#802f00"/>
<rect x="120" y="521" width="14" height="14" fill="#805e00"/>
<rect x="134" y="521" width="27" height="14" fill="#802f00"/>
<rect x="161" y="521" width="14" height="14" fill="#805e00"/>
<rect x="175" y="521" width="28" height="14" fill="#972f00"/>
<rect x="203" y="521" width="14" height="14" fill="#a25e00"/>
<rect x="217" y="521" width="14" height="14" fill="#ae2f00"/>
<rect x="231" y="521" width="14" height="14" fill="#ae5e00"/>
<rect x="8" y="535" width="28" height="14" fill="#7a5e5b"/>
<rect x="36" y="535" width="14" height="14" fill="#7a5e3e"/>
<rect x="50" y="535" width="28" height="14" fill="#855e3e"/>
<rect x="78" y="535" width="28" height="14" fill="#859000"/>
<rect x="106" y="535" width="28" height="14" fill="#805e00"/>
<rect x="134" y="535" width="13" height="14" fill="#802f00"/>
<rect x="147" y="535" width="14" height="14" fill="#805e00"/>
<rect x="161" y="535" width="42" height="14" fill="#972f00"/>
<rect x="203" y="535" width="14" height="14" fill="#a29000"/>
<rect x="217" y="535" width="14" height="14" fill="#ae2f00"/>
<rect x="231" y="535" width="14" height="14" fill="#c52f00"/>
<rect x="8" y="549" width="14" height="14" fill="#745e5b"/>
<rect x="22" y="549" width="28" height="14" fill="#7a5e5b"/>
<rect x="50" y="549" width="42" height="14" fill="#855e3e"/>
<rect x="92" y="549" width="28" height="14" fill="#855e5b"/>
<rect x="120" y="549" width="27" height="14" fill="#855e3e"/>
<rect x="147" y="549" width="14" height="14" fill="#8b5e3e"/>
<rect x="161" y="549" width="28" height="14" fill="#975e00"/>
<rect x="189" y="549" width="28" height="14" fill="#a29000"/>
<rect x="217" y="549" width="14" height="14" fill="#ae5e00"/>
<rect x="8" y="563" width="14" height="14" fill="#7a5e5b"/>
<rect x="22" y="563" width="28" height="14" fill="#a25e78"/>
<rect x="50" y="563" width="42" height="14" fill="#855e3e"/>
<rect x="92" y="563" width="14" height="14" fill="#a25e5b"/>
<rect x="106" y="563" width="14" height="14" fill="#855e3e"/>
<rect x="120" y="563" width="14" height="14" fill="#809000"/>
<rect x="134" y="563" width="13" height="14" fill="#805e00"/>
<rect x="147" y="563" width="14" height="14" fill="#8b5e3e"/>
<rect x="161" y="563" width="14" height="14" fill="#979000"/>
<rect x="175" y="563" width="14" height="14" fill="#a25e3e"/>
<rect x="189" y="563" width="28" height="14" fill="#b95e5b"/>
<rect x="217" y="563" width="14" height="14" fill="#b95e3e"/>
<rect x="8" y="577" width="42" height="14" fill="#7a5e5b"/>
<rect x="50" y="577" width="28" height="14" fill="#855e3e"/>
<rect x="78" y="577" width="14" height="14" fill="#a25e5b"/>
<rect x="92" y="577" width="28" height="14" fill="#855e3e"/>
<rect x="120" y="577" width="14" height="14" fill="#859000"/>
<rect x="134" y="577" width="13" height="14" fill="#809000"/>
<rect x="147" y="577" width="14" height="14" fill="#979000"/>
<rect x="161" y="577" width="14" height="14" fill="#a25e3e"/>
<rect x="175" y="577" width="28" height="14" fill="#ae5e3e"/>
<rect x="203" y="577" width="28" height="14" fill="#b95e5b"/>
<rect x="8" y="591" width="28" height="14" fill="#855e5b"/>
<rect x="36" y="591" width="14" height="14" fill="#a25e5b"/>
<rect x="50" y="591" width="14" height="14" fill="#855e3e"/>
<rect x="64" y="591" width="14" height="14" fill="#a25e78"/>
<rect x="78" y="591" width="14" height="14" fill="#a25e5b"/>
<rect x="92" y="591" width="14" height="14" fill="#855e3e"/>
<rect x="106" y="591" width="14" height="14" fill="#a25e5b"/>
<rect x="120" y="591" width="14" height="14" fill="#855e3e"/>
<rect x="134" y="591" width="13" height="14" fill="#859000"/>
<rect x="147" y="591" width="14" height="14" fill="#979000"/>
<rect x="161" y="591" width="28" height="14" fill="#a25e3e"/>
<rect x="189" y="591" width="14" height="14" fill="#ae5e3e"/>
<rect x="203" y="591" width="14" height="14" fill="#b95e5b"/>
<rect x="8" y="605" width="14" height="14" fill="#855e5b"/>
<rect x="22" y="605" width="14" height="14" fill="#a25e5b"/>
<rect x="36" y="605" width="14" height="14" fill="#a25e95"/>
<rect x="50" y="605" width="28" height="14" fill="#855e5b"/>
<rect x="78" y="605" width="28" height="14" fill="#855e3e"/>
<rect x="106" y="605" width="14" height="14" fill="#855e5b"/>
<rect x="120" y="605" width="14" height="14" fill="#855e3e"/>
<rect x="134" y="605" width="13" height="14" fill="#855e5b"/>
<rect x="147" y="605" width="28" height="14" fill="#979000"/>
<rect x="175" y="605" width="14" height="14" fill="#a25e3e"/>
<rect x="189" y="605" width="28" height="14" fill="#b95e5b"/>
<rect x="8" y="619" width="42" height="13" fill="#a25e78"/>
<rect x="50" y="619" width="14" height="13" fill="#a25e5b"/>
<rect x="64" y="619" width="28" height="13" fill="#855e3e"/>
<rect x="92" y="619" width="14" height="13" fill="#855e5b"/>
<rect x="106" y="619" width="14" height="13" fill="#a25e5b"/>
<rect x="120" y="619" width="27" height="13" fill="#855e5b"/>
<rect x="147" y="619" width="14" height="13" fill="#a25e5b"/>
<rect x="161" y="619" width="14" height="13" fill="#a25e78"/>
<rect x="175" y="619" width="14" height="13" fill="#b95e78"/>
<rect x="189" y="619" width="14" height="13" fill="#b95e5b"/>
<rect x="8" y="632" width="28" height="14" fill="#b95e78"/>
<rect x="36" y="632" width="14" height="14" fill="#a25e78"/>
<rect x="50" y="632" width="14" height="14" fill="#a25e5b"/>
<rect x="64" y="632" width="14" height="14" fill="#855e5b"/>
<rect x="78" y="632" width="14" height="14" fill="#855e3e"/>
<rect x="92" y="632" width="28" height="14" fill="#a25e5b"/>
<rect x="120" y="632" width="14" height="14" fill="#855e5b"/>
<rect x="134" y="632" width="13" height="14" fill="#855e3e"/>
<rect x="147" y="632" width="14" height="14" fill="#a25e78"/>
<rect x="161" y="632" width="14" height="14" fill="#b95e95"/>
<rect x="175" y="632" width="14" height="14" fill="#b95e78"/>
<rect x="189" y="632" width="14" height="14" fill="#b95e5b"/>
<rect x="8" y="646" width="28" height="14" fill="#c55e95"/>
<rect x="36" y="646" width="14" height="14" fill="#c55e78"/>
<rect x="50" y="646" width="28" height="14" fill="#ae5e5b"/>
<rect x="78" y="646" width="42" height="14" fill="#a25e3e"/>
<rect x="120" y="646" width="14" height="14" fill="#a25e5b"/>
<rect x="134" y="646" width="13" height="14" fill="#ae5e5b"/>
<rect x="147" y="646" width="14" height="14" fill="#c55e78"/>
<rect x="161" y="646" width="14" height="14" fill="#c55e95"/>
<rect x="175" y="646" width="14" height="14" fill="#dc5e95"/>
<rect x="8" y="660" width="14" height="14" fill="#c55e95"/>
<rect x="22" y="660" width="14" height="14" fill="#dc5e95"/>
<rect x="36" y="660" width="14" height="14" fill="#c55e78"/>
<rect x="50" y="660" width="14" height="14" fill="#b95e5b"/>
<rect x="64" y="660" width="28" height="14" fill="#ae5e5b"/>
<rect x="92" y="660" width="28" height="14" fill="#a25e3e"/>
<rect x="120" y="660" width="14" height="14" fill="#a25e5b"/>
<rect x="134" y="660" width="13" height="14" fill="#ae5e78"/>
<rect x="147" y="660" width="14" height="14" fill="#c55e78"/>
<rect x="161" y="660" width="14" height="14" fill="#ae5e78"/>
<rect x="175" y="660" width="14" height="14" fill="#c55e95"/>
<rect x="8" y="674" width="14" height="14" fill="#c55e78"/>
<rect x="22" y="674" width="14" height="14" fill="#ae5e78"/>
<rect x="36" y="674" width="14" height="14" fill="#c55e95"/>
<rect x="50" y="674" width="14" height="14" fill="#c55e5b"/>
<rect x="64" y="674" width="14" height="14" fill="#b95e3e"/>
<rect x="78" y="674" width="28" height="14" fill="#ae5e3e"/>
<rect x="106" y="674" width="14" height="14" fill="#a25e3e"/>
<rect x="120" y="674" width="14" height="14" fill="#ae5e3e"/>
<rect x="134" y="674" width="13" height="14" fill="#ae5e5b"/>
<rect x="147" y="674" width="14" height="14" fill="#c55e78"/>
<rect x="161" y="674" width="14" height="14" fill="#ae5e78"/>
<rect x="175" y="674" width="14" height="14" fill="#c55e78"/>
<rect x="8" y="688" width="14" height="14" fill="#ae5e78"/>
<rect x="22" y="688" width="28" height="14" fill="#8b5e5b"/>
<rect x="50" y="688" width="14" height="14" fill="#ae5e78"/>
<rect x="64" y="688" width="14" height="14" fill="#c55e5b"/>
<rect x="78" y="688" width="14" height="14" fill="#ae5e5b"/>
<rect x="92" y="688" width="14" height="14" fill="#ae5e3e"/>
<rect x="106" y="688" width="14" height="14" fill="#a25e3e"/>
<rect x="120" y="688" width="27" height="14" fill="#ae5e5b"/>
<rect x="147" y="688" width="14" height="14" fill="#c55e78"/>
<rect x="161" y="688" width="14" height="14" fill="#c55e5b"/>
<rect x="8" y="702" width="14" height="14" fill="#ae5e5b"/>
<rect x="22" y="702" width="28" height="14" fill="#8b5e3e"/>
<rect x="50" y="702" width="14" height="14" fill="#a25e78"/>
<rect x="64" y="702" width="28" height="14" fill="#c55e5b"/>
<rect x="92" y="702" width="14" height="14" fill="#ae5e5b"/>
<rect x="106" y="702" width="14" height="14" fill="#ae5e3e"/>
<rect x="120" y="702" width="14" height="14" fill="#b95e3e"/>
<rect x="134" y="702" width="13" height="14" fill="#ae5e5b"/>
<rect x="147" y="702" width="28" height="14" fill="#c55e5b"/>
<rect x="8" y="716" width="14" height="14" fill="#809000"/>
<rect x="22" y="716" width="14" height="14" fill="#8b5e3e"/>
<rect x="36" y="716" width="14" height="14" fill="#a25e5b"/>
<rect x="50" y="716" width="14" height="14" fill="#a25e78"/>
<rect x="64" y="716" width="14" height="14" fill="#ae5e78"/>
<rect x="78" y="716" width="14" height="14" fill="#c55e5b"/>
<rect x="92" y="716" width="55" height="14" fill="#ae5e5b"/>
<rect x="147" y="716" width="14" height="14" fill="#c55e5b"/>
<rect x="8" y="730" width="28" height="13" fill="#8b5e3e"/>
<rect x="36" y="730" width="14" height="13" fill="#a29000"/>
<rect x="50" y="730" width="14" height="13" fill="#a25e5b"/>
<rect x="64" y="730" width="14" height="13" fill="#a25e78"/>
<rect x="78" y="730" width="28" height="13" fill="#ae5e78"/>
<rect x="106" y="730" width="28" height="13" fill="#ae5e5b"/>
<rect x="134" y="730" width="13" height="13" fill="#b95e5b"/>
<rect x="147" y="730" width="14" height="13" fill="#c55e5b"/>
<rect x="8" y="743" width="28" height="14" fill="#8b5e3e"/>
<rect x="36" y="743" width="28" height="14" fill="#979000"/>
<rect x="64" y="743" width="14" height="14" fill="#975e3e"/>
<rect x="78" y="743" width="14" height="14" fill="#a25e95"/>
<rect x="92" y="743" width="14" height="14" fill="#ae5eb3"/>
<rect x="106" y="743" width="14" height="14" fill="#ae5e95"/>
<rect x="120" y="743" width="14" height="14" fill="#c55e78"/>
<rect x="134" y="743" width="13" height="14" fill="#c55e5b"/>
<rect x="8" y="757" width="42" height="14" fill="#8b5e3e"/>
<rect x="50" y="757" width="14" height="14" fill="#979000"/>
<rect x="64" y="757" width="14" height="14" fill="#975e3e"/>
<rect x="78" y="757" width="14" height="14" fill="#a25e78"/>
<rect x="92" y="757" width="14" height="14" fill="#ae5eb3"/>
<rect x="106" y="757" width="14" height="14" fill="#c55eb3"/>
<rect x="120" y="757" width="14" height="14" fill="#c55e95"/>
<rect x="134" y="757" width="13" height="14" fill="#c55e78"/>
<rect x="8" y="771" width="56" height="14" fill="#8b5e3e"/>
<rect x="64" y="771" width="14" height="14" fill="#975e3e"/>
<rect x="78" y="771" width="14" height="14" fill="#975e5b"/>
<rect x="92" y="771" width="14" height="14" fill="#ae5eb3"/>
<rect x="106" y="771" width="14" height="14" fill="#c55ed0"/>
<rect x="120" y="771" width="14" height="14" fill="#c55eb3"/>
<rect x="8" y="785" width="28" height="14" fill="#8b5e3e"/>
<rect x="36" y="785" width="14" height="14" fill="#975e3e"/>
<rect x="50" y="785" width="28" height="14" fill="#975e5b"/>
<rect x="78" y="785" width="14" height="14" fill="#975e78"/>
<rect x="92" y="785" width="14" height="14" fill="#a25e95"/>
<rect x="106" y="785" width="14" height="14" fill="#ae5eb3"/>
<rect x="120" y="785" width="14" height="14" fill="#c55eb3"/>
<rect x="8" y="799" width="14" height="14" fill="#8b5e5b"/>
<rect x="22" y="799" width="28" height="14" fill="#975e78"/>
<rect x="50" y="799" width="14" height="14" fill="#975e95"/>
<rect x="64" y="799" width="14" height="14" fill="#975e78"/>
<rect x="78" y="799" width="14" height="14" fill="#975e95"/>
<rect x="92" y="799" width="28" height="14" fill="#a25e95"/>
<rect x="8" y="813" width="14" height="14" fill="#8b5e5b"/>
<rect x="22" y="813" width="28" height="14" fill="#975e78"/>
<rect x="50" y="813" width="42" height="14" fill="#975e95"/>
<rect x="92" y="813" width="28" height="14" fill="#a25e95"/>
<rect x="8" y="827" width="42" height="10" fill="#975e5b"/>
<rect x="50" y="827" width="14" height="10" fill="#975e3e"/>
<rect x="64" y="827" width="28" height="10" fill="#a25e5b"/>
<rect x="92" y="827" width="14" height="10" fill="#a25e78"/>
</g>
<g fill="#8a2be2" shape-rendering="crispEdges">
<rect x="328" y="327" width="14" height="14"/>
<rect x="300" y="383" width="28" height="14"/>
<rect x="300" y="397" width="14" height="13"/>
<rect x="286" y="438" width="14" height="14"/>
<rect x="259" y="480" width="14" height="14"/>
<rect x="259" y="494" width="14" height="14"/>
<rect x="189" y="646" width="42" height="14"/>
<rect x="189" y="660" width="42" height="14"/>
<rect x="189" y="674" width="42" height="14"/>
<rect x="175" y="688" width="56" height="14"/>
<rect x="175" y="702" width="42" height="14"/>
<rect x="161" y="716" width="56" height="14"/>
<rect x="161" y="730" width="42" height="13"/>
<rect x="147" y="743" width="56" height="14"/>
<rect x="147" y="757" width="42" height="14"/>
<rect x="134" y="771" width="55" height="14"/>
<rect x="134" y="785" width="55" height="14"/>
<rect x="120" y="813" width="55" height="14"/>
<rect x="106" y="827" width="14" height="10"/>
</g>
<g shape-rendering="crispEdges">
<rect x="27" y="35" width="53" height="408" fill="#000"/>
<rect x="57" y="78" width="17" height="32" fill="rgb(100,0,0)"/>
<rect x="57" y="110" width="17" height="32" fill="rgb(238,0,0)"/>
<rect x="57" y="142" width="17" height="32" fill="rgb(255,79,0)"/>
<rect x="57" y="174" width="17" height="32" fill="rgb(255,165,0)"/>
<rect x="57" y="206" width="17" height="32" fill="rgb(255,255,0)"/>
<rect x="57" y="238" width="17" height="32" fill="rgb(127,255,0)"/>
<rect x="57" y="270" width="17" height="32" fill="rgb(0,136,0)"/>
<rect x="57" y="302" width="17" height="32" fill="rgb(0,255,255)"/>
<rect x="57" y="334" width="17" height="32" fill="rgb(0,128,255)"/>
<rect x="57" y="366" width="17" height="32" fill="rgb(0,0,255)"/>
<rect x="57" y="398" width="17" height="32" fill="rgb(138,43,226)"/>
<rect x="56.5" y="77.5" width="18" height="353" fill="none" stroke="#fff" stroke-width="1"/>
<g fill="#0ff"><rect x="8" y="35" width="1" height="765"/><rect x="147" y="35" width="1" height="765"/><rect x="286" y="35" width="1" height="765"/><rect x="425" y="35" width="1" height="765"/><rect x="564" y="35" width="1" height="765"/><rect x="703" y="35" width="1" height="765"/><rect x="842" y="35" width="1" height="765"/><rect x="981" y="35" width="1" height="765"/><rect x="1120" y="35" width="1" height="765"/><rect x="8" y="91" width="1113" height="1"/><rect x="8" y="230" width="1113" height="1"/><rect x="8" y="368" width="1113" height="1"/><rect x="8" y="507" width="1113" height="1"/><rect x="8" y="646" width="1113" height="1"/><rect x="8" y="785" width="1113" height="1"/></g>
<rect x="968" y="84" width="22" height="11" fill="#000"/>
<rect x="971" y="223" width="29" height="11" fill="#000"/>
<rect x="971" y="361" width="28" height="11" fill="#000"/>
<rect x="968" y="499" width="34" height="11" fill="#000"/>
<rect x="968" y="639" width="34" height="11" fill="#000"/>
<rect x="834" y="24" width="26" height="11" fill="#000"/>
</g>
<g fill="none" stroke="#fff" stroke-width="1" shape-rendering="crispEdges">
<polyline points="841.9,4.1 841.0,6.8 839.4,8.7 838.4,15.5 837.4,23.5"/>
<polyline points="837.4,35.9 836.8,38.4 832.9,42.8 829.1,49.6 826.0,55.8 824.4,58.2 826.7,59.9 829.1,59.9 830.6,62.0 833.5,61.3 830.6,62.6 829.8,65.7 831.4,69.4 831.9,76.2 830.1,76.6 828.5,74.1 825.4,73.7 823.2,75.0 823.8,77.4 826.0,79.3 828.5,81.8 832.9,84.3 836.8,86.1 840.3,85.5 835.3,88.6 833.5,88.6 829.1,87.4 826.7,86.7 825.2,84.3 823.2,88.0 824.2,90.5 823.2,96.7 822.5,102.4 820.4,105.5 817.3,108.6 816.6,111.1 814.2,110.5 810.4,113.0 810.4,117.9 812.9,123.5 815.4,129.1 819.1,134.0 821.6,136.5 821.6,142.1 824.1,147.7 827.2,150.1 830.3,153.2 830.9,157.6 834.6,159.4 837.7,163.8 842.7,168.7 847.0,171.2 850.7,173.7 853.2,177.4 856.3,179.3 860.6,184.8 861.3,187.3 864.3,189.2 866.5,191.0 868.5,193.1 871.0,198.1 875.9,200.5 879.7,206.7 883.4,209.8 890.8,216.0 892.7,219.1 891.4,220.4 893.9,225.3 897.0,229.7 899.5,231.5 902.0,236.5 904.4,242.0 903.8,244.5 901.3,247.6 903.8,252.0 907.5,256.9 919.3,257.5 923.0,255.7 924.6,254.2 923.0,258.2 919.3,258.8 913.1,261.5 908.8,260.9 906.3,262.5 909.4,267.4 911.9,272.4 913.1,276.1 921.2,284.2 921.4,293.0 923.9,296.8 927.0,304.8 930.7,312.9 933.8,316.6 936.3,323.4 936.9,332.1 933.2,334.6 930.1,339.5 926.4,341.4 925.4,344.5 930.1,350.0 932.0,360.6 935.7,369.3 938.2,373.0 940.6,379.2 944.3,383.5 946.5,386.5 946.8,389.9 949.3,396.7 949.3,400.4 948.1,407.3 947.4,421.5 945.0,429.6 941.3,433.3 938.8,438.2 935.7,440.7 930.1,441.3 928.9,443.8 923.9,446.9 923.3,448.8 924.5,450.0 922.7,454.3 917.7,458.1 915.2,461.8 912.7,463.0 912.1,465.5 913.4,468.6 912.7,476.7 909.6,478.5 907.5,486.8 906.9,495.4 905.1,502.9 903.2,504.7 902.6,510.9 901.3,512.2 898.2,518.4 898.2,524.6 894.5,528.3 890.8,530.8 890.2,532.6 892.0,535.1 893.3,545.6 893.3,555.5 891.4,560.5 890.8,571.7 890.4,573.1 890.4,586.1 892.8,593.5 897.2,601.6 899.0,605.3 903.4,609.7 906.5,610.9 910.8,617.1 915.1,623.3 918.2,630.7 922.6,638.8 926.3,646.8 926.9,649.9 929.4,651.2 932.5,655.5 932.5,659.2 935.0,664.2 936.5,670.6 940.2,674.3 940.8,678.0 947.6,685.4 952.0,695.4 958.8,702.8 961.9,707.8 965.6,711.5 966.2,714.6 968.7,720.8 968.7,727.6 965.6,731.9 966.8,738.7 965.6,741.8 967.5,745.5 967.5,755.8 966.4,756.7 966.6,763.0 970.2,771.0 970.8,774.1 975.1,779.0 975.8,784.0 977.6,785.8 976.4,790.8 976.4,798.2 977.6,799.5"/>
<polyline points="744.9,81.8 748.6,79.0 751.7,80.0 752.7,83.0 749.8,88.2 746.7,88.2 744.2,86.1 744.9,81.8"/>
</g>
</svg>
<div class="t" style="left:9.5px;top:18px;font-size:10.5px;color:#ffa500;letter-spacing:0.1px;">NASA Langley (M04.0)</div>
<div class="t leg" style="left:12px;top:63px;letter-spacing:0.05px;">BBALB (%)</div>
<div class="t leg" style="left:0;width:50.5px;text-align:right;top:73px;">100</div>
<div class="t leg" style="left:0;width:50.5px;text-align:right;top:105px;">80</div>
<div class="t leg" style="left:0;width:50.5px;text-align:right;top:137px;">70</div>
<div class="t leg" style="left:0;width:50.5px;text-align:right;top:169px;">60</div>
<div class="t leg" style="left:0;width:50.5px;text-align:right;top:201px;">50</div>
<div class="t leg" style="left:0;width:50.5px;text-align:right;top:233px;">40</div>
<div class="t leg" style="left:0;width:50.5px;text-align:right;top:265px;">30</div>
<div class="t leg" style="left:0;width:50.5px;text-align:right;top:297px;">25</div>
<div class="t leg" style="left:0;width:50.5px;text-align:right;top:329px;">20</div>
<div class="t leg" style="left:0;width:50.5px;text-align:right;top:361px;">15</div>
<div class="t leg" style="left:0;width:50.5px;text-align:right;top:393px;">10</div>
<div class="t leg" style="left:0;width:50.5px;text-align:right;top:425px;">0</div>
<div class="t" style="left:139.9px;top:25px;font-size:11px;color:#f00;-webkit-text-stroke:0.3px #f00;letter-spacing:0.69px;">15W</div>
<div class="t" style="left:277.0px;top:25px;font-size:11px;color:#f00;-webkit-text-stroke:0.3px #f00;letter-spacing:0.69px;">10W</div>
<div class="t" style="left:424.5px;top:25px;font-size:11px;color:#f00;-webkit-text-stroke:0.3px #f00;letter-spacing:-3.00px;">5W</div>
<div class="t" style="left:559.2px;top:25px;font-size:11px;color:#f00;-webkit-text-stroke:0.3px #f00;letter-spacing:0.00px;">0</div>
<div class="t" style="left:703.0px;top:25px;font-size:11px;color:#f00;-webkit-text-stroke:0.3px #f00;letter-spacing:3.05px;">5E</div>
<div class="t" style="left:835.1px;top:25px;font-size:11px;color:#f00;-webkit-text-stroke:0.3px #f00;letter-spacing:1.91px;">10E</div>
<div class="t" style="left:975.5px;top:25px;font-size:11px;color:#f00;-webkit-text-stroke:0.3px #f00;letter-spacing:2.21px;">15E</div>
<div class="t" style="left:975.5px;top:85px;font-size:11px;color:#f00;-webkit-text-stroke:0.3px #f00;letter-spacing:0.00px;">0</div>
<div class="t" style="left:981.0px;top:224px;font-size:11px;color:#f00;-webkit-text-stroke:0.3px #f00;letter-spacing:3.55px;">5S</div>
<div class="t" style="left:974.2px;top:362px;font-size:11px;color:#f00;-webkit-text-stroke:0.3px #f00;letter-spacing:2.06px;">10S</div>
<div class="t" style="left:975.5px;top:501px;font-size:11px;color:#f00;-webkit-text-stroke:0.3px #f00;letter-spacing:2.71px;">15S</div>
<div class="t" style="left:975.4px;top:640px;font-size:11px;color:#f00;-webkit-text-stroke:0.3px #f00;letter-spacing:2.26px;">20S</div>
<div class="t" style="left:314.3px;top:837px;font-size:11px;color:#fff;-webkit-text-stroke:0.3px #fff;letter-spacing:2.29px;">MT10</div>
<div class="t" style="left:368.3px;top:837px;font-size:11px;color:#fff;-webkit-text-stroke:0.3px #fff;letter-spacing:1.29px;">BROADBAND</div>
<div class="t" style="left:458.3px;top:837px;font-size:11px;color:#fff;-webkit-text-stroke:0.3px #fff;letter-spacing:1.67px;">ALBEDO</div>
<div class="t" style="left:539.3px;top:837px;font-size:11px;color:#fff;-webkit-text-stroke:0.3px #fff;letter-spacing:3.22px;">JUL</div>
<div class="t" style="left:575.3px;top:837px;font-size:11px;color:#fff;-webkit-text-stroke:0.3px #fff;letter-spacing:5.35px;">15,</div>
<div class="t" style="left:611.3px;top:837px;font-size:11px;color:#fff;-webkit-text-stroke:0.3px #fff;letter-spacing:3.51px;">2017</div>
<div class="t" style="left:656.3px;top:837px;font-size:11px;color:#fff;-webkit-text-stroke:0.3px #fff;letter-spacing:3.75px;">18:15Z</div>
<div class="t" style="left:737.3px;top:837px;font-size:11px;color:#fff;-webkit-text-stroke:0.3px #fff;letter-spacing:1.68px;">NASA</div>
<div class="t" style="left:782.3px;top:837px;font-size:11px;color:#fff;-webkit-text-stroke:0.3px #fff;letter-spacing:1.89px;">LARC</div>
<div class="t" style="left:384px;top:3px;font-size:16px;letter-spacing:0.46px;color:#fff;">BROADBAND ALBEDO</div>
<div class="t" style="left:372px;top:21.5px;font-size:16px;color:#fff;transform:scaleX(0.868);transform-origin:0 0;">Jul 15, 2017 18:15 UTC</div>
</body></html>
